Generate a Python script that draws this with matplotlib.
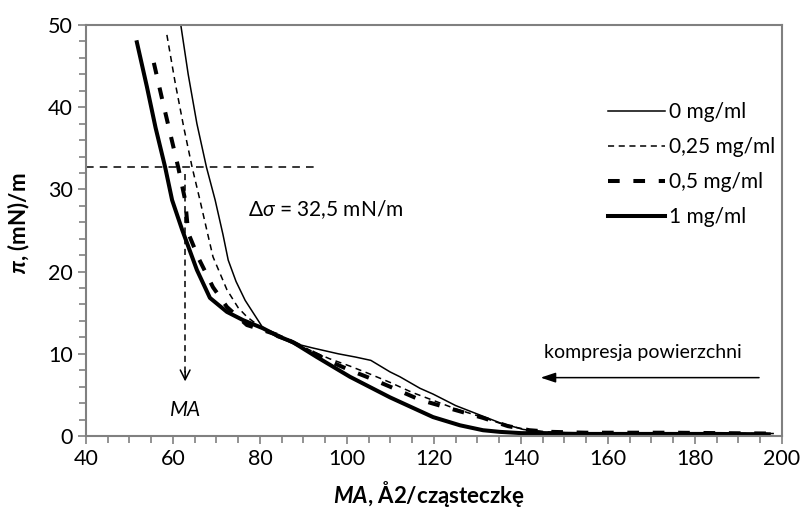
import matplotlib
matplotlib.use("Agg")
import matplotlib.pyplot as plt
from matplotlib.lines import Line2D
from matplotlib.ticker import MultipleLocator

plt.rcParams['font.family'] = ['Lato', 'DejaVu Sans']
plt.rcParams['mathtext.fontset'] = 'custom'
plt.rcParams['mathtext.rm'] = 'Lato'
plt.rcParams['mathtext.it'] = 'Lato:italic'
plt.rcParams['mathtext.bf'] = 'Lato:bold'
plt.rcParams['mathtext.bfit'] = 'Lato:italic:bold'
plt.rcParams['mathtext.fallback'] = 'stixsans'

# Isotherms: mean molecular area (A^2/molecule) vs surface pressure (mN/m)
x_0 = [61.8, 63.5, 65.5, 67.7, 69.7, 71.5, 72.7, 74.5, 76.6, 80.5, 84, 87.6, 92.2,
       98, 102, 105.5, 109.9, 112.2, 116.8, 119.8, 125, 131.3, 135.2, 140.5, 145,
       150, 160, 170, 180, 190, 198]
y_0 = [50, 44, 38, 32.7, 28.7, 24.5, 21.4, 18.8, 16.5, 13.3, 12.0, 11.3, 10.7,
       10.0, 9.6, 9.2, 7.8, 7.2, 5.8, 5.1, 3.7, 2.4, 1.6, 0.8, 0.5,
       0.4, 0.35, 0.3, 0.3, 0.3, 0.3]

x_025 = [58.6, 60.5, 62.5, 64.4, 66.2, 67.8, 69.2, 72.4, 75, 77, 80, 84, 88, 92,
         96, 100.7, 105, 110, 115, 120, 125, 131, 136, 141, 146, 150, 160, 170,
         180, 190, 197]
y_025 = [48.8, 43, 37.5, 32.7, 28.7, 25, 21.8, 17.8, 15.6, 14.5, 13.3, 12.4, 11.4,
         10.3, 9.4, 8.5, 7.6, 6.5, 5.3, 4.3, 3.3, 2.3, 1.4, 0.8, 0.5, 0.4, 0.35,
         0.3, 0.3, 0.3, 0.3]

x_05 = [55.6, 57.5, 59.5, 61.2, 62.8, 63.5, 66, 69.2, 72.4, 77, 80, 84, 88, 92, 96,
        100.7, 105, 109.9, 116.8, 124, 131.3, 137, 142, 147, 155, 165, 175, 185, 197]
y_05 = [45.4, 41, 36.5, 32.7, 28.7, 24.7, 21.5, 18.1, 15.7, 13.5, 13.0, 12.3, 11.3,
        10.2, 9.1, 8.0, 7.1, 6.0, 4.4, 3.3, 2.2, 1.2, 0.7, 0.5, 0.4, 0.4, 0.4, 0.35, 0.3]

x_1 = [51.7, 54, 56, 58.2, 59.8, 62.1, 65.5, 68.5, 72.4, 76.1, 80.7, 84, 87.6, 93.1,
       100.7, 109.9, 119.8, 126, 131.3, 135.2, 140, 145, 155, 170, 185, 197]
y_1 = [47.9, 42.5, 37.5, 32.7, 28.7, 25.1, 20.2, 16.8, 15.1, 14.1, 13.1, 12.2, 11.4,
       9.6, 7.2, 4.7, 2.3, 1.3, 0.7, 0.5, 0.35, 0.3, 0.25, 0.25, 0.25, 0.2]

labels = ['0 mg/ml', '0,25 mg/ml', '0,5 mg/ml', '1 mg/ml']

sigma_level = 32.7   # level of the dashed guide
ma_value = 62.8

fig = plt.figure(figsize=(8.06, 5.17), dpi=100)
ax = fig.add_axes([0.1067, 0.1567, 0.8633, 0.7949])

ax.plot(x_0, y_0, color='black', lw=1.1, label=labels[0])
ax.plot(x_025, y_025, color='black', lw=1.1, dashes=(4, 3), label=labels[1])
ax.plot(x_05, y_05, color='black', lw=2.9, dashes=(2.9, 3.4), label=labels[2])
ax.plot(x_1, y_1, color='black', lw=2.9, label=labels[3])

# guide lines
ax.plot([40, 93], [sigma_level, sigma_level], color='black', lw=1.1, dashes=(5, 4))
ax.plot([ma_value, ma_value], [sigma_level - 0.8, 7.0], color='black', lw=1.1, dashes=(4, 3))
ax.annotate('', xy=(ma_value, 6.3), xytext=(ma_value, 8.2),
            arrowprops=dict(arrowstyle='->,head_width=0.35,head_length=0.7',
                            lw=1.1, color='black'))
ax.text(ma_value, 3.2, 'MA', style='italic', fontsize=15, ha='center', va='center')
ax.text(77.2, 27.5, r'Δ$\mathit{\sigma}$ = 32,5 mN/m', fontsize=15,
        ha='left', va='center')

ax.text(168, 10.1, 'kompresja powierzchni', fontsize=14, ha='center', va='center')
ax.annotate('', xy=(143.9, 7.1), xytext=(195.4, 7.1),
            arrowprops=dict(arrowstyle='-|>,head_width=0.3,head_length=0.9',
                            lw=1.1, color='black'))

ax.set_xlim(40, 200)
ax.set_ylim(0, 50)
ax.xaxis.set_major_locator(MultipleLocator(20))
ax.xaxis.set_minor_locator(MultipleLocator(5))
ax.yaxis.set_major_locator(MultipleLocator(10))
ax.yaxis.set_minor_locator(MultipleLocator(2))
ax.tick_params(which='both', direction='out', color='#808080', width=1.2,
               labelsize=15.5)
ax.tick_params(which='major', length=6)
ax.tick_params(which='minor', length=5)
for s in ax.spines.values():
    s.set_color('#808080')
    s.set_linewidth(1.5)

ax.set_xlabel(r'$\mathbfit{MA}$, Å2/cząsteczkę', fontsize=16, fontweight='bold')
ax.set_ylabel(r'$\mathbfit{\pi}$, (mN)/m', fontsize=16, fontweight='bold')
ax.xaxis.set_label_coords(0.493, -0.105)
ax.yaxis.set_label_coords(-0.078, 0.518)

handles = [
    Line2D([], [], color='black', lw=1.1),
    Line2D([], [], color='black', lw=1.1, dashes=(4, 3)),
    Line2D([], [], color='black', lw=2.9, dashes=(2.9, 3.4)),
    Line2D([], [], color='black', lw=2.9),
]
ax.legend(handles, labels, loc='upper left', bbox_to_anchor=(598 / 806, 1 - 92 / 517),
          bbox_transform=fig.transFigure, frameon=False, fontsize=15,
          handlelength=2.7, handletextpad=0.2, labelspacing=0.72, borderpad=0)

fig.savefig('out.png', dpi=100)
